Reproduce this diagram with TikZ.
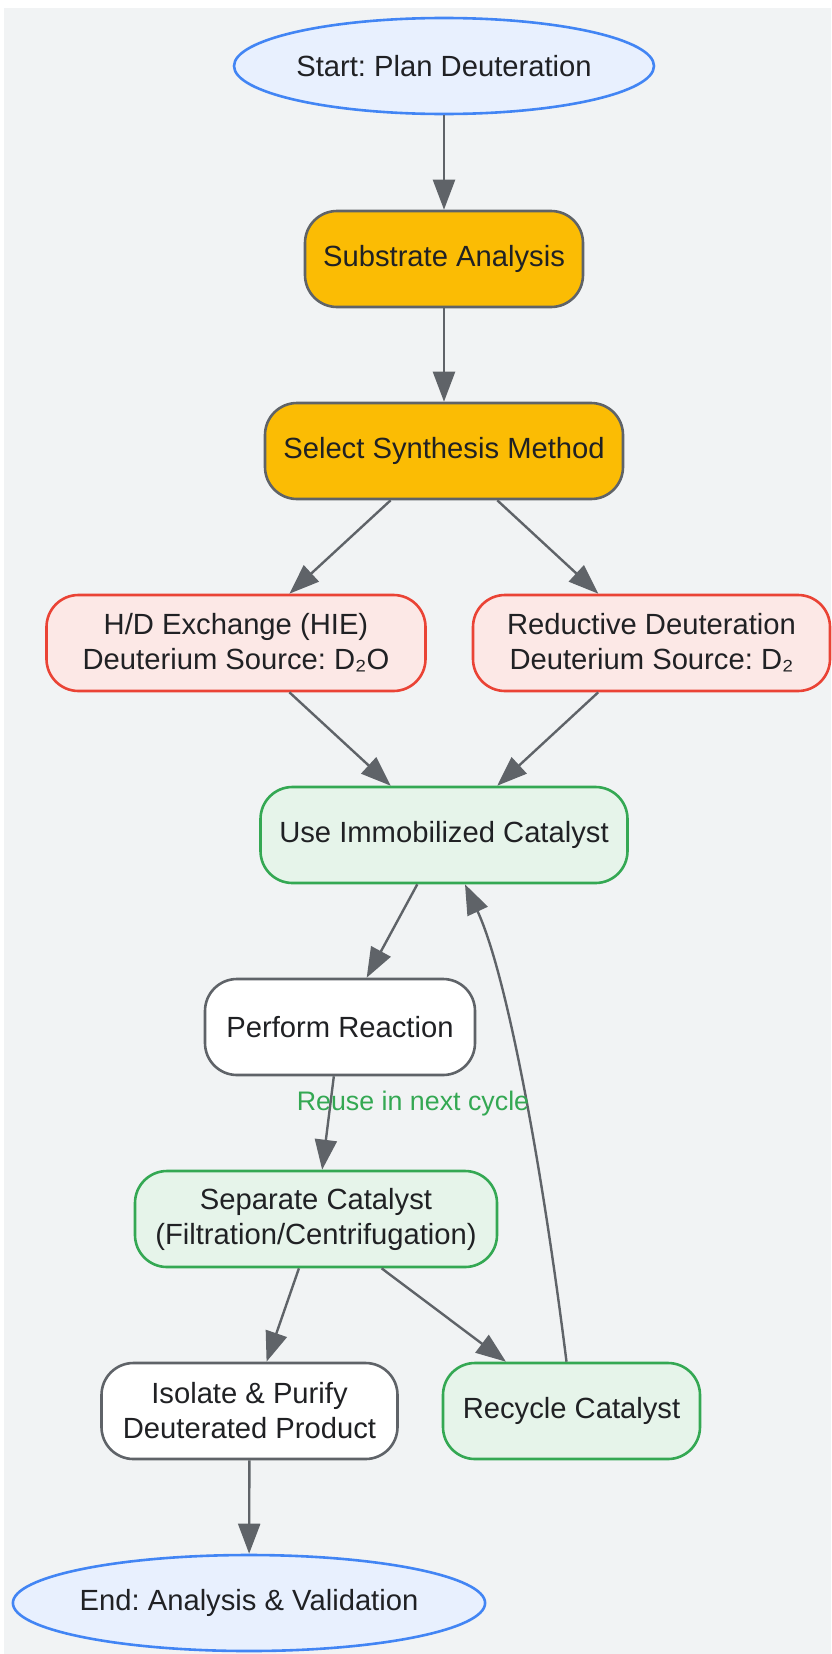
\documentclass[tikz,border=0pt]{standalone}
\usepackage{fontspec}
\setmainfont{Liberation Sans}
\frenchspacing
\usetikzlibrary{shapes.geometric,arrows.meta,calc}
\definecolor{bgc}{HTML}{F1F3F4}
\definecolor{txt}{HTML}{202124}
\definecolor{gline}{HTML}{5F6368}
\definecolor{bluef}{HTML}{E8F0FE}
\definecolor{blued}{HTML}{4285F4}
\definecolor{yellf}{HTML}{FBBC04}
\definecolor{redf}{HTML}{FCE8E6}
\definecolor{redd}{HTML}{EA4335}
\definecolor{greenf}{HTML}{E6F4EA}
\definecolor{greend}{HTML}{34A853}
\begin{document}
\begin{tikzpicture}[x=0.5pt,y=-0.5pt,
  every node/.style={font=\fontsize{14.6}{17.5}\selectfont,text=txt,align=center},
  box/.style={draw=gline,line width=1.3pt,rounded corners=16pt,minimum height=48pt,inner sep=0pt},
  term/.style={ellipse,draw=blued,fill=bluef,line width=1.3pt,minimum height=48pt,inner sep=0pt},
  arr/.style={draw=gline,line width=1.2pt,-{Triangle[length=15pt,width=11pt]},fill=none}]
%背景
\useasboundingbox (0,0) rectangle (831,1654);
\fill[bgc] (4,8) rectangle (831,1654);
%节点
\node[term,minimum width=210pt] (start) at (444,66) {Start: Plan Deuteration};
\node[box,fill=yellf,minimum width=139pt] (sub) at (444,259) {Substrate Analysis};
\node[box,fill=yellf,minimum width=179pt] (sel) at (444,451) {Select Synthesis Method};
\node[box,draw=redd,fill=redf,minimum width=189.5pt] (hie) at (236,643) {H/D Exchange (HIE)\\Deuterium Source: D₂O};
\node[box,draw=redd,fill=redf,minimum width=178.5pt] (red) at (651.5,643) {Reductive Deuteration\\Deuterium Source: D₂};
\node[box,draw=greend,fill=greenf,minimum width=183.5pt] (use) at (444,835) {Use Immobilized Catalyst};
\node[box,fill=white,minimum width=135pt] (rxn) at (340,1027) {Perform Reaction};
\node[box,draw=greend,fill=greenf,minimum width=181pt] (sep) at (316,1219) {Separate Catalyst\\(Filtration/Centrifugation)};
\node[box,fill=white,minimum width=148pt] (iso) at (249.5,1411) {Isolate \& Purify\\Deuterated Product};
\node[box,draw=greend,fill=greenf,minimum width=128.5pt] (rec) at (571.5,1411) {Recycle Catalyst};
\node[term,minimum width=234pt,inner xsep=-1.2pt] (end) at (249,1603) {End: Analysis \& Validation};
%箭头
\draw[arr] (start) -- (sub);
\draw[arr] (sub) -- (sel);
\draw[arr] (sel) -- (hie);
\draw[arr] (sel) -- (red);
\draw[arr] (hie) -- (use);
\draw[arr] (red) -- (use);
\draw[arr] (use) -- (rxn);
\draw[arr] (rxn) -- (sep);
\draw[arr] (sep) -- (iso);
\draw[arr] (sep) -- (rec);
\draw[arr] (iso) -- (end);
\draw[arr] ($(rec.north)+(-5,0)$) .. controls (540,1150) and (505,970) .. ($(use.south)+(21,0)$);
\node[text=greend,font=\fontsize{13.4}{16}\selectfont] (reuse) at (413,1104) {Reuse in next cycle};
\end{tikzpicture}
\end{document}
